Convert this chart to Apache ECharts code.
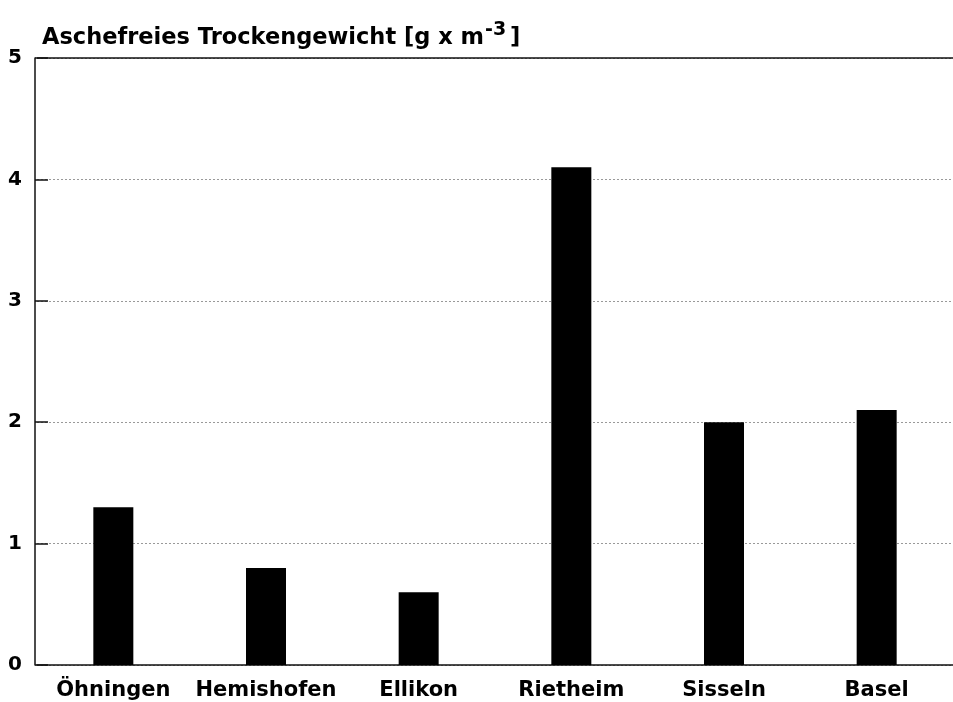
<!DOCTYPE html>
<html>
<head>
<meta charset="utf-8">
<title>Aschefreies Trockengewicht</title>
<script src="https://cdn.jsdelivr.net/npm/echarts@6/dist/echarts.min.js"></script>
<style>
  html, body { margin: 0; padding: 0; background: #fff; }
  #chart { width: 953px; height: 702px; }
</style>
</head>
<body>
<div id="chart"></div>
<script>
// Messstellen (x-Achse)
const stations = ["Öhningen", "Hemishofen", "Ellikon", "Rietheim", "Sisseln", "Basel"];
// aschefreies Trockengewicht in g x m^-3
const dryWeight = [1.3, 0.8, 0.6, 4.1, 2.0, 2.1];
// y-Achse
const yMin = 0;
const yMax = 5;
const yStep = 1;

let myChart = echarts.init(document.getElementById("chart"));

const font = "DejaVu Sans";

let option = {
  animation: false,
  backgroundColor: "#fff",
  title: {
    text: "Aschefreies Trockengewicht [g x m{sup|-3}]",
    left: 37,
    top: 16,
    textStyle: {
      fontFamily: font,
      fontWeight: "bold",
      fontSize: 22.5,
      color: "#000",
      rich: {
        sup: {
          fontFamily: font,
          fontWeight: "bold",
          fontSize: 19,
          color: "#000",
          padding: [0, 4, 16, 1],
        },
      },
    },
  },
  grid: {
    left: 37,
    right: -3,
    top: 58,
    bottom: 37,
    containLabel: false,
  },
  xAxis: {
    type: "category",
    data: stations,
    axisLine: {
      show: true,
      lineStyle: { color: "#111", width: 1.5 },
    },
    axisTick: { show: false },
    axisLabel: {
      interval: 0,
      margin: 15,
      fontFamily: font,
      fontWeight: "bold",
      fontSize: 21,
      color: "#000",
    },
  },
  yAxis: {
    type: "value",
    min: yMin,
    max: yMax,
    interval: yStep,
    offset: 2,
    axisLine: {
      show: true,
      lineStyle: { color: "#111", width: 1.5 },
    },
    axisTick: {
      show: true,
      inside: true,
      length: 13,
      lineStyle: { color: "#111", width: 1.5 },
    },
    axisLabel: {
      margin: 13,
      fontFamily: font,
      fontWeight: "bold",
      fontSize: 20,
      color: "#000",
    },
    // gepunktete Hilfslinien
    splitLine: {
      show: true,
      lineStyle: { color: "#999", type: [2, 2], width: 1 },
    },
  },
  series: [
    {
      name: "Trockengewicht",
      type: "bar",
      data: dryWeight,
      barWidth: 40,
      itemStyle: { color: "#000" },
      // obere Begrenzungslinie bei 5
      markLine: {
        silent: true,
        symbol: "none",
        label: { show: false },
        lineStyle: { color: "#111", type: "solid", width: 1.5 },
        data: [{ yAxis: yMax }],
      },
    },
  ],
};

myChart.setOption(option);
</script>
</body>
</html>
